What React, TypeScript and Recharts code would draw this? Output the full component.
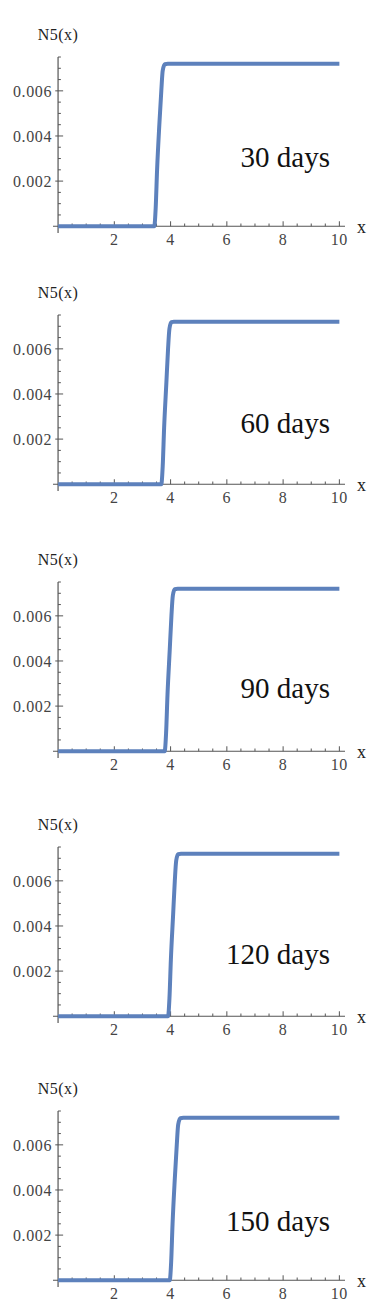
import React from 'react';
import { LineChart, Line, XAxis, YAxis, ReferenceLine } from 'recharts';

interface Point {
  x: number;
  y: number;
}

const days30: Point[] = [
  { x: 0, y: 0 }, { x: 3.42, y: 0 }, { x: 3.47, y: 0.0008 }, { x: 3.52, y: 0.0025 },
  { x: 3.6, y: 0.0045 }, { x: 3.67, y: 0.006 }, { x: 3.72, y: 0.0069 },
  { x: 3.8, y: 0.00718 }, { x: 3.9, y: 0.0072 }, { x: 10, y: 0.0072 },
];
const days60: Point[] = [
  { x: 0, y: 0 }, { x: 3.67, y: 0 }, { x: 3.72, y: 0.0008 }, { x: 3.77, y: 0.0025 },
  { x: 3.85, y: 0.0045 }, { x: 3.91, y: 0.006 }, { x: 3.96, y: 0.0069 },
  { x: 4.03, y: 0.00718 }, { x: 4.12, y: 0.0072 }, { x: 10, y: 0.0072 },
];
const days90: Point[] = [
  { x: 0, y: 0 }, { x: 3.79, y: 0 }, { x: 3.84, y: 0.0008 }, { x: 3.89, y: 0.0025 },
  { x: 3.97, y: 0.0045 }, { x: 4.03, y: 0.006 }, { x: 4.08, y: 0.0069 },
  { x: 4.15, y: 0.00718 }, { x: 4.25, y: 0.0072 }, { x: 10, y: 0.0072 },
];
const days120: Point[] = [
  { x: 0, y: 0 }, { x: 3.91, y: 0 }, { x: 3.96, y: 0.0008 }, { x: 4.01, y: 0.0025 },
  { x: 4.09, y: 0.0045 }, { x: 4.15, y: 0.006 }, { x: 4.2, y: 0.0069 },
  { x: 4.27, y: 0.00718 }, { x: 4.37, y: 0.0072 }, { x: 10, y: 0.0072 },
];
const days150: Point[] = [
  { x: 0, y: 0 }, { x: 3.97, y: 0 }, { x: 4.02, y: 0.0008 }, { x: 4.07, y: 0.0025 },
  { x: 4.15, y: 0.0045 }, { x: 4.22, y: 0.006 }, { x: 4.27, y: 0.0069 },
  { x: 4.35, y: 0.00718 }, { x: 4.45, y: 0.0072 }, { x: 10, y: 0.0072 },
];

const panelLabels = ['30 days', '60 days', '90 days', '120 days', '150 days'];
const panelData = [days30, days60, days90, days120, days150];

const xMajorTicks = [2, 4, 6, 8, 10];
const xMinorTicks = [0.5, 1, 1.5, 2.5, 3, 3.5, 4.5, 5, 5.5, 6.5, 7, 7.5, 8.5, 9, 9.5];
const yMajorTicks = [0.002, 0.004, 0.006];
const yMinorTicks = [0.0005, 0.001, 0.0015, 0.0025, 0.003, 0.0035, 0.0045, 0.005, 0.0055, 0.0065, 0.007, 0.0075];

// layout (page pixels)
const panelTops = [0, 258, 525, 790, 1054];
const labelBaselines = [166, 174, 172, 173, 176];

const AXIS = '#555';
const TICK_TEXT = '#444';
const LINE = '#5d81bc';
const FONT = "'Liberation Serif', 'Times New Roman', serif";

const fmt = (v: number) => v.toFixed(3);
const tickStyle = { fill: TICK_TEXT, fontSize: 16, fontFamily: FONT, letterSpacing: 0.6 };

const Panel = ({ data, label, top, baseline }: { data: Point[]; label: string; top: number; baseline: number }) => (
  <div style={{ position: 'absolute', left: 0, top, width: 382, height: 258, fontFamily: FONT }}>
    <LineChart width={382} height={258} data={data} margin={{ top: 57, right: 37, bottom: 5, left: 0 }}>
      <XAxis
        dataKey="x"
        type="number"
        domain={[-0.18, 10.2]}
        ticks={xMajorTicks}
        allowDataOverflow
        axisLine={false}
        tickLine={false}
        tickSize={0}
        tickMargin={1}
        height={20}
        tick={tickStyle}
      />
      <YAxis
        type="number"
        domain={[-0.0003, 0.0075]}
        ticks={yMajorTicks}
        allowDataOverflow
        axisLine={false}
        tickLine={false}
        tickSize={0}
        tickMargin={1}
        width={53}
        tickFormatter={fmt}
        tick={tickStyle}
      />
      <ReferenceLine
        y={0}
        stroke={AXIS}
        strokeWidth={1.2}
        label={{ value: 'x', position: 'right', offset: 12, fill: '#222', fontSize: 18, fontFamily: FONT }}
      />
      <ReferenceLine
        x={0}
        stroke={AXIS}
        strokeWidth={1.2}
        label={{ value: 'N5(x)', position: 'top', offset: 17, fill: '#222', fontSize: 16, fontFamily: FONT, letterSpacing: 0.5 }}
      />
      {xMajorTicks.map((t) => (
        <ReferenceLine key={`xM${t}`} segment={[{ x: t, y: 0 }, { x: t, y: 0.00022 }]} stroke={AXIS} />
      ))}
      {xMinorTicks.map((t) => (
        <ReferenceLine key={`xm${t}`} segment={[{ x: t, y: 0 }, { x: t, y: 0.00012 }]} stroke={AXIS} />
      ))}
      {yMajorTicks.map((t) => (
        <ReferenceLine key={`yM${t}`} segment={[{ x: -0.1, y: t }, { x: 0.18, y: t }]} stroke={AXIS} />
      ))}
      {yMinorTicks.map((t) => (
        <ReferenceLine key={`ym${t}`} segment={[{ x: 0, y: t }, { x: 0.1, y: t }]} stroke={AXIS} />
      ))}
      <Line
        type="monotone"
        dataKey="y"
        stroke={LINE}
        strokeWidth={4}
        dot={false}
        isAnimationActive={false}
      />
    </LineChart>
    <div
      style={{
        position: 'absolute',
        right: 52,
        top: baseline - 23,
        fontFamily: FONT,
        fontSize: 29,
        lineHeight: '29px',
        color: '#111',
        whiteSpace: 'nowrap',
      }}
    >
      {label}
    </div>
  </div>
);

export default function App() {
  return (
    <div style={{ position: 'absolute', left: 0, top: 0, width: 382, height: 1316, background: '#fff' }}>
      {panelData.map((d, i) => (
        <Panel key={panelLabels[i]} data={d} label={panelLabels[i]} top={panelTops[i]} baseline={labelBaselines[i]} />
      ))}
    </div>
  );
}
